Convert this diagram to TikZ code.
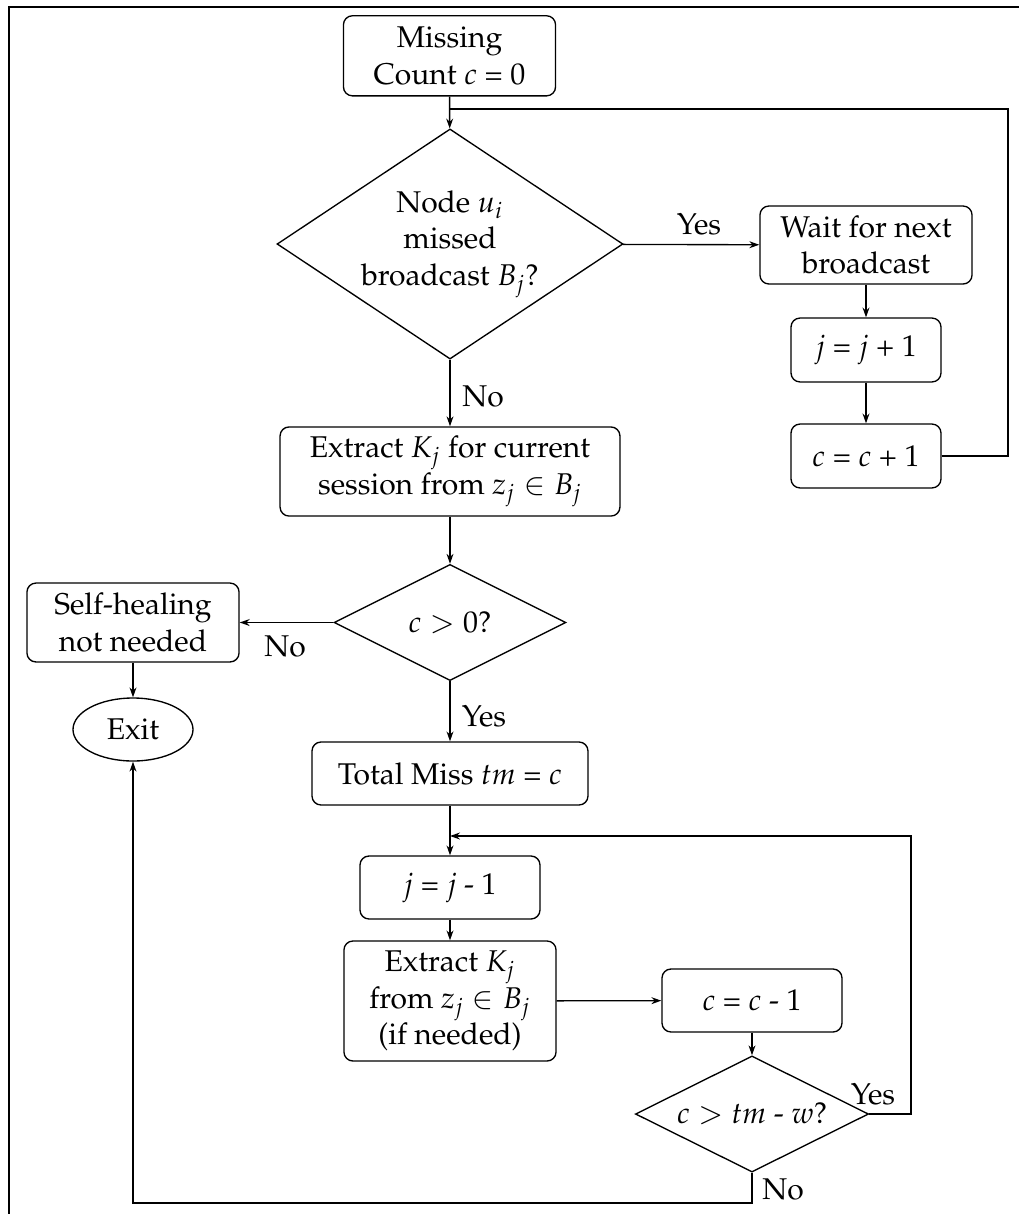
\documentclass[tikz,border=0pt]{standalone}
\usepackage[T1]{fontenc}
\usepackage{mathpazo}
\usetikzlibrary{shapes.geometric,arrows.meta}
\begin{document}
\begin{tikzpicture}[x=0.33333pt,y=-0.33333pt,
  line width=0.45pt,
  every node/.style={font=\fontsize{10}{12.2}\selectfont},
  box/.style={draw,rectangle,rounded corners=3pt,align=center,inner sep=1pt},
  dec/.style={draw,diamond,align=center,inner sep=0pt},
  term/.style={draw,ellipse,inner sep=0pt},
  arr/.style={-{Stealth[length=3.3pt,width=2.3pt]}},
  lbl/.style={inner sep=0pt}]
\useasboundingbox (0,0) rectangle (1019,1214);
% outer frame
\draw (9,1214) -- (9,7) -- (1019,7);

% nodes
\node[box,minimum width=70.7pt,minimum height=26.7pt] (start) at (449.5,55.8) {Missing\\Count $c$ = 0};
\node[dec,aspect=1.5,minimum width=115.3pt,minimum height=76.7pt] (d1) at (450,244) {Node $u_i$\\missed\\broadcast $B_j$?};
\node[box,minimum width=70.7pt,minimum height=26pt] (wait) at (866,245) {Wait for next\\broadcast};
\node[box,minimum width=50pt,minimum height=21.3pt] (jp) at (866,350) {$j$ = $j$ + 1};
\node[box,minimum width=50pt,minimum height=21.3pt] (cp) at (866,456) {$c$ = $c$ + 1};
\node[box,minimum width=113.3pt,minimum height=29.7pt] (ext1) at (450,471.5) {Extract $K_j$ for current\\session from $z_j \in B_j$};
\node[dec,aspect=2,minimum width=77.3pt,minimum height=38.7pt] (d2) at (450,622.5) {$c > 0$?};
\node[box,minimum width=70.7pt,minimum height=26.3pt] (self) at (133,622.5) {Self-healing\\not needed};
\node[term,minimum width=40pt,minimum height=21pt] (exit) at (133,729.5) {Exit};
\node[box,minimum width=92pt,minimum height=21pt] (total) at (450,773.5) {Total Miss $tm$ = $c$};
\node[box,minimum width=60pt,minimum height=21pt] (jm) at (450,887.5) {$j$ = $j$ - 1};
\node[box,minimum width=70.7pt,minimum height=40pt] (ext2) at (450,1001) {Extract $K_j$\\from $z_j \in B_j$\\(if needed)};
\node[box,minimum width=60pt,minimum height=21pt] (cm) at (752,1000.5) {$c$ = $c$ - 1};
\node[dec,aspect=2,minimum width=77.7pt,minimum height=38.7pt] (d3) at (752,1114) {$c > tm$ - $w$?};

% junction points where loops rejoin the main flow
\coordinate (merge1) at (450,109);
\coordinate (merge2) at (450,836);

% main flow
\draw[arr] (start) -- (d1);
\draw[arr] (d1) -- (wait);
\draw[arr] (wait) -- (jp);
\draw[arr] (jp) -- (cp);
\draw (cp.east) -- (1008,456) |- (merge1);
\draw[arr] (d1) -- (ext1);
\draw[arr] (ext1) -- (d2);
\draw[arr] (d2) -- (self);
\draw[arr] (self) -- (exit);
\draw[arr] (d2) -- (total);
\draw[arr] (total) -- (jm);
\draw[arr] (jm) -- (ext2);
\draw[arr] (ext2) -- (cm);
\draw[arr] (cm) -- (d3);
\draw[arr] (d3.east) -- (911,1114) |- (merge2);
\draw[arr] (d3.south) -- (752,1203) -| (exit.south);

% branch labels
\node[lbl] at (699,224) {Yes};
\node[lbl] at (483,396) {No};
\node[lbl] at (285,646) {No};
\node[lbl] at (484,716) {Yes};
\node[lbl] at (873,1094) {Yes};
\node[lbl] at (783,1189) {No};
\end{tikzpicture}
\end{document}
